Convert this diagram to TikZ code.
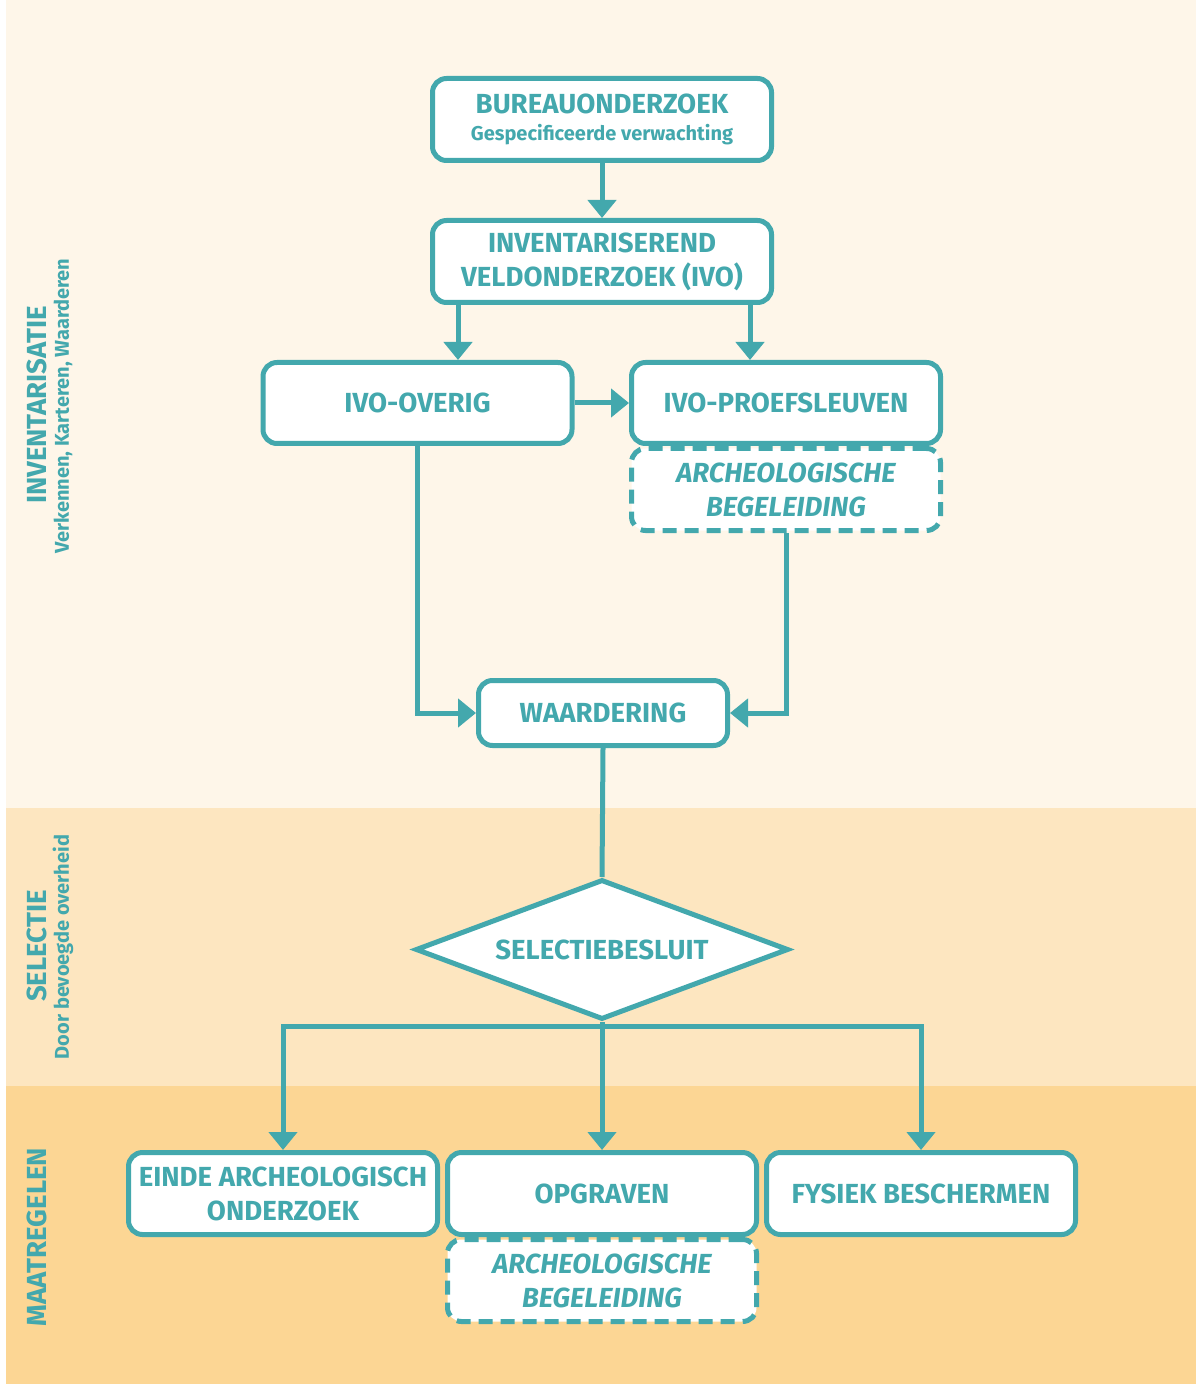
\documentclass[tikz,border=0pt]{standalone}
\usepackage{fontspec}
\setmainfont{Fira Sans}
\usetikzlibrary{arrows.meta,shapes.geometric}
\definecolor{archteal}{HTML}{43A8AD}
\definecolor{bandtop}{HTML}{FEF6E9}
\definecolor{bandmid}{HTML}{FDE6C0}
\definecolor{bandlow}{HTML}{FCD694}
\newcommand\stapfont{\fontsize{13.8}{17}\selectfont\bfseries}
\begin{document}
\begin{tikzpicture}[x=0.5pt, y=-0.5pt,
    stap/.style={draw=archteal, line width=2.5pt, rounded corners=7pt, fill=white,
      text=archteal, font=\stapfont, align=center, inner sep=0pt,
      minimum width=154.5pt, minimum height=41pt},
    begeleiding/.style={stap, dash pattern=on 7pt off 4pt, font=\stapfont\itshape},
    besluitvorm/.style={stap, diamond, rounded corners=0pt, aspect=2.66,
      minimum width=186.5pt, minimum height=70pt},
    fase/.style={rotate=90, text=archteal, font=\fontsize{13.8}{15}\selectfont\bfseries},
    fasesub/.style={rotate=90, text=archteal, font=\fontsize{10}{12}\selectfont\bfseries},
    lijn/.style={draw=archteal, line width=2.5pt},
    pijl/.style={lijn, -{Triangle[width=14pt, length=9pt]}}]
        % Achtergrond
        \useasboundingbox (0,0) rectangle (1196,1384);
        \fill[bandtop] (6,0) rectangle (1196,808);
        \fill[bandmid] (6,808) rectangle (1196,1086);
        \fill[bandlow] (6,1086) rectangle (1196,1384);
        
        % Fasen
        \node[fase] (invTitel) at (37,405) {INVENTARISATIE};
        \node[fasesub] (invSub) at (63,406) {Verkennen, Karteren, Waarderen};
        \node[fase] (selTitel) at (37,946) {SELECTIE};
        \node[fasesub] (selSub) at (63,947) {Door bevoegde overheid};
        \node[fase] (maaTitel) at (37,1237) {MAATREGELEN};
        
        % Stappen
        \node[stap, minimum width=169.5pt, text depth=2pt] (bureau) at (602,119.5)
          {BUREAUONDERZOEK\\[-3.5pt]{\fontsize{10}{12}\selectfont Gespecificeerde verwachting}};
        \node[stap, minimum width=169.5pt] (invent) at (602,261.5)
          {INVENTARISEREND\\VELDONDERZOEK (IVO)};
        \node[stap, minimum height=40.5pt] (overig) at (417.5,403) {IVO-OVERIG};
        \node[stap, minimum height=40.5pt] (proef) at (786,403) {IVO-PROEFSLEUVEN};
        \node[begeleiding, anchor=north] (begel1) at (proef.south) {ARCHEOLOGISCHE\\BEGELEIDING};
        \node[stap, minimum width=124.5pt, minimum height=32.5pt] (waard) at (603,713) {WAARDERING};
        \node[besluitvorm] (besluit) at (602,949.5) {SELECTIEBESLUIT};
        \node[stap] (einde) at (283,1193.5) {EINDE ARCHEOLOGISCH\\ONDERZOEK};
        \node[stap] (opgraven) at (602,1193.5) {OPGRAVEN};
        \node[stap] (fysiek) at (921,1193.5) {FYSIEK BESCHERMEN};
        \node[begeleiding, anchor=north] (begel2) at (opgraven.south) {ARCHEOLOGISCHE\\BEGELEIDING};
        
        % Verbindingen
        \coordinate (ivoL) at ([xshift=14pt]invent.south west);
        \coordinate (ivoR) at ([xshift=-12pt]invent.south east);
        \coordinate (splits) at (602,1026);
        \draw[pijl] (bureau) -- (invent);
        \draw[pijl] (ivoL) -- (ivoL |- overig.north);
        \draw[pijl] (ivoR) -- (ivoR |- proef.north);
        \draw[pijl] (overig) -- (proef);
        \draw[pijl] (overig.south) |- (waard.west);
        \draw[pijl] (begel1.south) |- (waard.east);
        \draw[lijn] (waard.south) -- (besluit.north);
        \draw[lijn] (besluit.south) -- (splits);
        \draw[pijl] (splits) -- (opgraven.north);
        \draw[pijl] (splits) -| (einde.north);
        \draw[pijl] (splits) -| (fysiek.north);
\end{tikzpicture}
\end{document}
